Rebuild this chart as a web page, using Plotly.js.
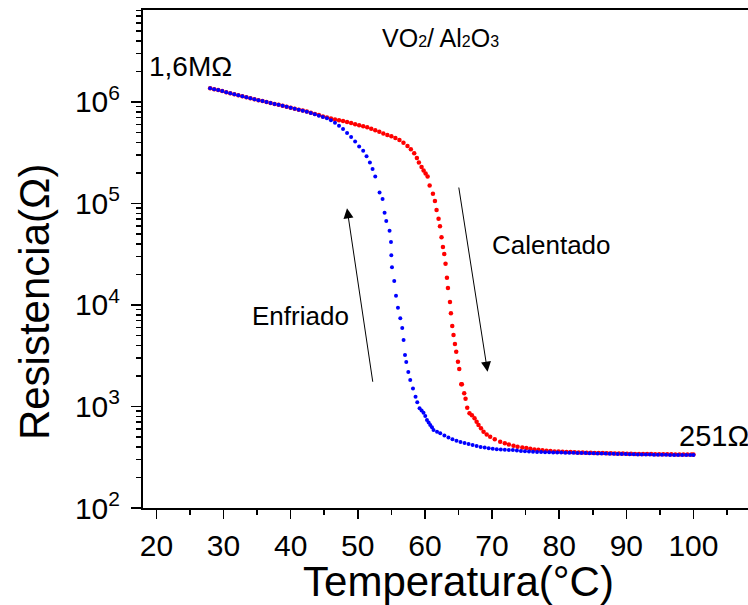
<!DOCTYPE html>
<html>
<head>
<meta charset="utf-8">
<script src="https://cdn.plot.ly/plotly-3.0.1.min.js"></script>
<style>
html, body { margin: 0; padding: 0; background: #ffffff; overflow: hidden; }
#chart { width: 774px; height: 605px; }
</style>
</head>
<body>
<div id="chart"></div>
<script>
// Heating (Calentado) – red
const tempHeating = [
  28.0, 28.6, 29.2, 29.8, 30.4, 31.0, 31.6, 32.2, 32.8, 33.4, 34.0, 34.6, 35.2, 35.8, 36.4,
  37.0, 37.6, 38.2, 38.8, 39.4, 40.0, 40.6, 41.2, 41.8, 42.4, 43.0, 43.6, 44.2, 44.8, 45.4,
  46.0, 46.6, 47.2, 47.8, 48.4, 49.0, 49.6, 50.2, 50.8, 51.4, 52.0, 52.6, 53.2, 53.8, 54.4,
  55.0, 55.6, 56.2, 56.8, 57.4, 57.9, 58.4, 58.8, 59.1, 59.5, 59.8, 60.1, 60.4, 60.7,
  61.19, 61.49, 61.73, 62.03, 62.24, 62.47, 62.68, 62.88, 63.07, 63.28, 63.43, 63.73,
  63.87, 64.07, 64.26, 64.47, 64.66, 64.92, 65.11, 65.41, 65.5, 65.85, 66.05, 66.3, 66.64,
  67.0, 67.39, 67.7, 67.98, 68.35, 68.73, 69.2, 69.72, 70.4, 71.21, 71.9, 72.5, 73.19,
  73.8, 74.5, 75.1, 75.7, 76.3, 76.9, 77.5, 78.1, 78.7, 79.3, 79.9, 80.5, 81.1, 81.7,
  82.3, 82.9, 83.5, 84.1, 84.7, 85.3, 85.9, 86.5, 87.1, 87.7, 88.3, 88.9, 89.5, 90.1,
  90.7, 91.3, 91.9, 92.5, 93.1, 93.7, 94.3, 94.9, 95.5, 96.1, 96.7, 97.3, 97.9, 98.5,
  99.1, 99.7, 100.0
];
const resHeating = [
  1.365e6, 1.337e6, 1.309e6, 1.279e6, 1.250e6, 1.222e6, 1.194e6, 1.167e6, 1.138e6, 1.112e6, 1.086e6, 1.064e6, 1.042e6, 1.021e6, 1.000e6,
  9.77e5, 9.57e5, 9.38e5, 9.16e5, 8.97e5, 8.77e5, 8.57e5, 8.39e5, 8.22e5, 8.04e5, 7.85e5, 7.63e5, 7.42e5, 7.20e5, 7.02e5,
  6.86e5, 6.73e5, 6.62e5, 6.49e5, 6.34e5, 6.19e5, 6.04e5, 5.89e5, 5.75e5, 5.64e5, 5.46e5, 5.27e5, 5.08e5, 4.90e5, 4.72e5,
  4.59e5, 4.42e5, 4.22e5, 3.96e5, 3.68e5, 3.43e5, 3.13e5, 2.81e5, 2.54e5, 2.29e5, 2.11e5, 1.97e5, 1.84e5, 1.50e5,
  1.25e5, 1.06e5, 8.63e4, 7.08e4, 5.96e4, 4.65e4, 3.72e4, 3.18e4, 2.55e4, 1.86e4, 1.47e4, 1.07e4,
  8.28e3, 6.21e3, 5.06e3, 4.13e3, 3.47e3, 2.76e3, 2.34e3, 1.66e3, 1.66e3, 1.35e3, 1.19e3, 973, 857,
  822, 766, 708, 658, 610, 565, 531, 504, 476, 450, 435, 422, 411,
  402, 394, 389, 384, 378, 374, 370, 366, 364, 361, 360, 359, 357, 356,
  355, 353, 352, 351, 350, 349, 348, 348, 347, 346, 345, 344, 344, 343,
  342, 341, 341, 340, 340, 340, 339, 339, 338, 338, 338, 337, 337, 337,
  337, 337, 337
];

// Cooling (Enfriado) – blue
const tempCooling = [
  28.0, 28.6, 29.2, 29.8, 30.4, 31.0, 31.6, 32.2, 32.8, 33.4, 34.0, 34.6, 35.2, 35.8, 36.4,
  37.0, 37.6, 38.2, 38.8, 39.4, 40.0, 40.6, 41.2, 41.8, 42.4, 43.0, 43.6, 44.2, 44.8, 45.4,
  46.0, 46.6, 47.2, 47.8, 48.4, 49.0, 49.6, 50.2, 50.8, 51.3, 51.8, 52.2, 52.6,
  53.24, 53.69, 53.99, 54.24, 54.73, 54.94, 54.99, 55.09, 55.43, 55.69, 55.98, 56.33, 56.62,
  56.82, 57.03, 57.22, 57.52, 57.81, 58.22, 58.6, 58.86, 59.2, 59.5, 59.79, 60.05, 60.3,
  60.55, 60.79, 61.05, 61.28, 61.8, 62.28, 62.9, 63.5, 64.1, 64.7, 65.3, 65.9, 66.5, 67.1,
  67.7, 68.3, 68.9, 69.5, 70.1, 70.7, 71.3, 71.9, 72.5, 73.1, 73.7, 74.3, 74.9, 75.5,
  76.1, 76.7, 77.3, 77.9, 78.5, 79.1, 79.7, 80.3, 80.9, 81.5, 82.1, 82.7, 83.3, 83.9,
  84.5, 85.1, 85.7, 86.3, 86.9, 87.5, 88.1, 88.7, 89.3, 89.9, 90.5, 91.1, 91.7, 92.3,
  92.9, 93.5, 94.1, 94.7, 95.3, 95.9, 96.5, 97.1, 97.7, 98.3, 98.9, 99.5, 100.0
];
const resCooling = [
  1.365e6, 1.337e6, 1.309e6, 1.279e6, 1.250e6, 1.222e6, 1.194e6, 1.167e6, 1.138e6, 1.112e6, 1.086e6, 1.064e6, 1.042e6, 1.021e6, 1.000e6,
  9.77e5, 9.57e5, 9.38e5, 9.16e5, 8.97e5, 8.77e5, 8.57e5, 8.39e5, 8.20e5, 8.00e5, 7.78e5, 7.55e5, 7.33e5, 7.10e5, 6.90e5,
  6.61e5, 6.24e5, 5.83e5, 5.41e5, 4.95e5, 4.52e5, 4.07e5, 3.65e5, 3.30e5, 2.92e5, 2.54e5, 2.19e5, 1.84e5,
  1.28e5, 1.107e5, 8.11e4, 6.73e4, 5.40e4, 4.18e4, 3.09e4, 2.35e4, 1.72e4, 1.236e4, 9.40e3, 7.40e3, 5.93e3,
  4.52e3, 3.21e3, 2.74e3, 2.19e3, 1.82e3, 1.50e3, 1.25e3, 1.10e3, 959, 912, 869, 804, 736,
  695, 658, 624, 586, 565, 545, 519, 495, 476, 460, 447, 437, 427, 417,
  407, 399, 394, 388, 384, 380, 378, 375, 373, 372, 368, 365, 362, 360,
  358, 357, 356, 355, 354, 353, 352, 352, 351, 351, 350, 349, 348, 348,
  347, 346, 345, 344, 344, 343, 342, 341, 340, 340, 339, 338, 337, 337,
  336, 336, 335, 335, 334, 334, 333, 333, 333, 333, 332, 332, 332
];

// Axis tick labels
const xTickVals = [20, 30, 40, 50, 60, 70, 80, 90, 100, 110];
const xTickText = ['20', '30', '40', '50', '60', '70', '80', '90', '100', '110'];
const yTickVals = [1e2, 1e3, 1e4, 1e5, 1e6];
const yTickText = ['10<sup>2</sup>', '10<sup>3</sup>', '10<sup>4</sup>', '10<sup>5</sup>', '10<sup>6</sup>'];

// minor tick positions on the log axis (2..9 in each decade)
const yMinor = [];
for (let e = 2; e <= 6; e++) {
  for (let m = 2; m <= 9; m++) yMinor.push(m * Math.pow(10, e));
}

const FONT = 'Liberation Sans, Arial, Helvetica, sans-serif';

const traces = [
  {
    x: tempHeating, y: resHeating, type: 'scatter', mode: 'markers', name: 'Calentado',
    marker: { color: '#ff0000', size: 4.5, line: { width: 0 } }
  },
  {
    x: tempCooling, y: resCooling, type: 'scatter', mode: 'markers', name: 'Enfriado',
    marker: { color: '#0000ff', size: 4, line: { width: 0 } }
  }
];

const sub = s => '<span style="font-size:16px">' + s + '</span>';

const layout = {
  width: 774, height: 605,
  margin: { l: 143, r: 0, t: 10, b: 97 },
  paper_bgcolor: '#ffffff', plot_bgcolor: '#ffffff',
  showlegend: false,
  hovermode: false,
  font: { family: FONT, color: '#000000' },
  xaxis: {
    range: [18, 112],
    tickvals: xTickVals, ticktext: xTickText,
    ticks: 'outside', ticklen: 9, tickwidth: 1.5, tickcolor: '#000',
    minor: { tickvals: [25, 35, 45, 55, 65, 75, 85, 95, 105], ticks: 'outside', ticklen: 4.5, tickwidth: 1.5, tickcolor: '#000' },
    showline: true, linecolor: '#000', linewidth: 2, mirror: true,
    showgrid: false, zeroline: false,
    tickfont: { family: FONT, size: 30, color: '#000' },
    ticklabelstandoff: 1,
    title: { text: 'Temperatura(°C)', font: { family: FONT, size: 42, color: '#000' }, standoff: 4 }
  },
  yaxis: {
    type: 'log',
    range: [2, 6.906],
    tickvals: yTickVals, ticktext: yTickText,
    ticks: 'outside', ticklen: 10, tickwidth: 1.5, tickcolor: '#000',
    minor: { tickvals: yMinor, ticks: 'outside', ticklen: 5, tickwidth: 1.5, tickcolor: '#000' },
    showline: true, linecolor: '#000', linewidth: 2, mirror: true,
    showgrid: false, zeroline: false,
    tickfont: { family: FONT, size: 30, color: '#000' },
    ticklabelstandoff: 5
  },
  annotations: [
    { xref: 'paper', yref: 'paper', x: -0.171, y: 0.4137, text: 'Resistencia(Ω)', textangle: -90,
      showarrow: false, font: { family: FONT, size: 42, color: '#000' }, xanchor: 'center', yanchor: 'middle' },
    { xref: 'x', yref: 'y', x: 62.29, y: 6.63, text: 'VO' + sub('2') + '/ Al' + sub('2') + 'O' + sub('3'),
      showarrow: false, font: { family: FONT, size: 25, color: '#000' }, xanchor: 'center', yanchor: 'middle' },
    { xref: 'x', yref: 'y', x: 25.14, y: 6.345, text: '1,6MΩ',
      showarrow: false, font: { family: FONT, size: 28, color: '#000' }, xanchor: 'center', yanchor: 'middle' },
    { xref: 'x', yref: 'y', x: 97.6, y: 2.709, text: '251Ω',
      showarrow: false, font: { family: FONT, size: 29, color: '#000' }, xanchor: 'left', yanchor: 'middle' },
    { xref: 'x', yref: 'y', x: 78.92, y: 4.591, text: 'Calentado',
      showarrow: false, font: { family: FONT, size: 26, color: '#000' }, xanchor: 'center', yanchor: 'middle' },
    { xref: 'x', yref: 'y', x: 41.44, y: 3.895, text: 'Enfriado',
      showarrow: false, font: { family: FONT, size: 26, color: '#000' }, xanchor: 'center', yanchor: 'middle' },
    // arrows
    { xref: 'x', yref: 'y', axref: 'x', ayref: 'y', x: 48.39, y: 4.953, ax: 52.26, ay: 3.229, text: '',
      showarrow: true, arrowhead: 2, arrowsize: 2, arrowwidth: 1, arrowcolor: '#000', standoff: 0, startstandoff: 0 },
    { xref: 'x', yref: 'y', axref: 'x', ayref: 'y', x: 69.33, y: 3.343, ax: 65.01, ay: 5.172, text: '',
      showarrow: true, arrowhead: 2, arrowsize: 2, arrowwidth: 1, arrowcolor: '#000', standoff: 0, startstandoff: 0 }
  ]
};

Plotly.newPlot('chart', traces, layout, { displayModeBar: false, staticPlot: true });
</script>
</body>
</html>
